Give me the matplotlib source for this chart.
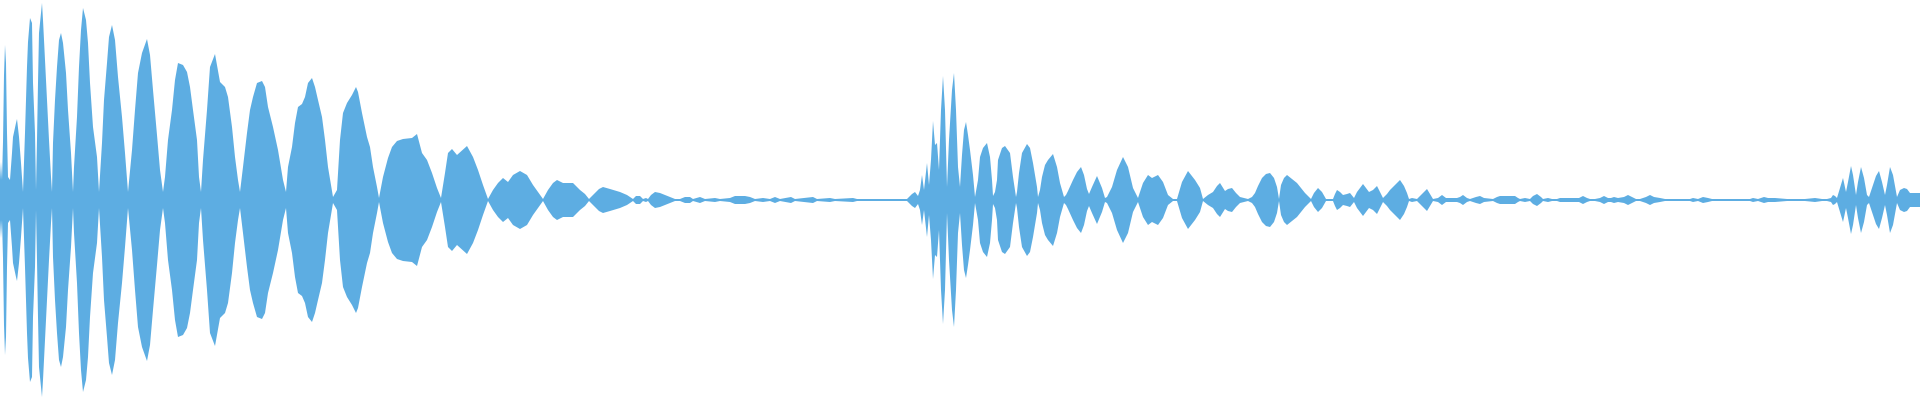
import matplotlib
matplotlib.use('Agg')
import matplotlib.pyplot as plt

# waveform envelope: sample position (px) and half-height (px, max 200)
# first hit and its decay
burst1_x = [0, 1, 2, 3, 4, 5, 6, 7, 8, 10,
            12, 13, 16, 17, 19, 21, 23, 25, 27, 28,
            30, 32, 33, 35, 36, 37, 38, 39, 42, 43,
            45, 47, 49, 51, 52, 53, 55, 57, 59, 61,
            63, 66, 68, 71, 73, 74, 77, 79, 81, 83,
            86, 88, 90, 93, 97, 99, 102, 104, 107, 109,
            112, 115, 118, 122, 125, 128, 132, 135, 138, 142,
            147, 150, 153, 157, 160, 163, 165, 168, 172, 175,
            178, 183, 187, 190, 193, 197, 199, 201, 203, 207,
            210, 215, 220, 225, 228, 232, 235, 238, 240, 243,
            247, 250, 253, 257, 262, 265, 268, 273, 278, 283,
            286, 288, 292, 295, 298, 302, 305, 308, 312, 315,
            318, 322, 325, 328, 333, 337, 340, 343, 347, 352,
            356, 358, 362, 367, 370, 373, 377, 379, 383, 388,
            392, 397, 403, 412, 417, 422, 427, 432, 437, 441,
            445, 448, 452, 457, 467, 473, 478, 483, 488, 493,
            498, 503, 508, 513, 520, 527, 533, 538, 543]
burst1_amp = [20, 38, 20, 58, 125, 155, 137, 67, 23, 20,
              47, 63, 77, 81, 63, 37, 8, 67, 133, 158,
              182, 177, 117, 67, 10, 60, 117, 167, 197, 180,
              140, 100, 60, 23, 8, 57, 100, 133, 160, 167,
              157, 127, 90, 47, 8, 33, 83, 133, 170, 192,
              180, 157, 117, 73, 43, 8, 57, 100, 137, 163,
              175, 160, 123, 83, 47, 8, 50, 90, 127, 147,
              161, 145, 110, 65, 30, 8, 23, 60, 90, 120,
              137, 135, 128, 113, 90, 60, 23, 8, 40, 90,
              133, 146, 118, 113, 103, 73, 43, 20, 8, 33,
              67, 90, 103, 117, 119, 113, 93, 73, 50, 20,
              8, 33, 53, 77, 93, 96, 103, 117, 122, 113,
              100, 83, 60, 33, 3, 10, 60, 87, 97, 105,
              113, 108, 87, 63, 53, 33, 13, 2, 23, 42,
              53, 59, 61, 62, 66, 47, 40, 27, 12, 2,
              27, 47, 51, 45, 54, 43, 30, 15, 1, 10,
              17, 22, 18, 25, 29, 25, 15, 8, 1]

# quiet stretch
quiet1_x = [548, 553, 557, 563, 573, 580, 585, 589, 594, 599,
            603, 610, 620, 627, 633, 636, 640, 643, 646, 648,
            651, 655, 660, 665, 670, 675, 680, 685, 690, 693,
            700, 705, 715, 720, 730, 735, 745, 750, 755, 763,
            770, 775, 780, 791, 795, 813, 817, 830, 835, 853,
            857, 873, 907]
quiet1_amp = [10, 17, 20, 17, 17, 10, 6, 1, 6, 11,
              13, 11, 8, 5, 1, 4, 4, 1, 2, 1,
              5, 8, 7, 5, 3, 1, 1, 3, 3, 1,
              3, 1, 2, 1, 2, 4, 4, 3, 1, 2,
              1, 3, 1, 3, 1, 3, 1, 2, 1, 2,
              1, 1, 1]

# second hit
burst2_x = [912, 915, 918, 920, 922, 924, 927, 929, 931, 933,
            935, 937, 939, 941, 943, 945, 947, 949, 952, 954,
            956, 958, 960, 962, 964, 966, 968, 970, 973, 975,
            978, 980, 983, 987, 990, 992, 993, 995, 997, 998,
            1002, 1005, 1010, 1013, 1016, 1017, 1019, 1022, 1027, 1030,
            1033, 1037, 1038, 1040, 1042, 1045, 1048, 1053, 1057, 1060,
            1064, 1066, 1068, 1073, 1077, 1081, 1084, 1087, 1089, 1092,
            1097, 1102, 1105, 1107, 1112, 1117, 1123, 1128, 1133, 1138,
            1143, 1148, 1152, 1158, 1163, 1168, 1173, 1177, 1182, 1188,
            1195, 1200, 1203]
burst2_amp = [6, 8, 4, 10, 25, 10, 37, 15, 40, 79,
              55, 57, 30, 90, 124, 90, 13, 60, 110, 127,
              90, 33, 13, 45, 70, 78, 65, 50, 25, 3,
              20, 43, 52, 57, 43, 20, 4, 8, 20, 40,
              52, 54, 47, 23, 3, 8, 27, 47, 56, 52,
              37, 13, 3, 10, 23, 35, 40, 46, 33, 17,
              3, 5, 9, 20, 28, 33, 25, 11, 6, 13,
              24, 12, 2, 3, 13, 30, 43, 33, 12, 2,
              17, 25, 22, 25, 18, 5, 1, 1, 18, 29,
              20, 12, 1]

# tail of second hit and long quiet stretch
tail2_x = [1208, 1213, 1217, 1220, 1225, 1228, 1232, 1236, 1240, 1248,
           1252, 1255, 1258, 1262, 1266, 1270, 1274, 1277, 1279, 1281,
           1284, 1287, 1292, 1297, 1301, 1305, 1311, 1314, 1318, 1322,
           1326, 1333, 1335, 1337, 1340, 1343, 1347, 1350, 1354, 1357,
           1363, 1366, 1369, 1373, 1377, 1380, 1383, 1387, 1390, 1395,
           1400, 1404, 1407, 1409, 1412, 1417, 1422, 1427, 1430, 1433,
           1438, 1442, 1446, 1450, 1457, 1460, 1463, 1467, 1470, 1476,
           1480, 1484, 1493, 1497, 1500, 1515, 1518, 1520, 1525, 1530,
           1533, 1537, 1541, 1543, 1548, 1552, 1557, 1560, 1575, 1579,
           1583, 1587, 1590, 1595, 1600, 1604, 1608, 1611, 1614, 1618,
           1624, 1628, 1632, 1636, 1640, 1646, 1650, 1654, 1660, 1665,
           1670, 1680, 1690, 1693, 1698, 1703, 1708, 1712, 1722, 1740,
           1750, 1753, 1758, 1764, 1768, 1775, 1787, 1805, 1815, 1822,
           1827]
tail2_amp = [5, 8, 14, 17, 9, 11, 12, 7, 3, 1,
             3, 7, 14, 22, 26, 27, 22, 13, 1, 15,
             22, 25, 21, 17, 12, 7, 1, 7, 12, 8,
             1, 1, 6, 10, 8, 5, 6, 7, 2, 8,
             16, 12, 8, 10, 14, 8, 2, 6, 10, 15,
             20, 14, 7, 1, 2, 1, 6, 11, 6, 1,
             2, 5, 2, 2, 2, 3, 5, 2, 1, 3,
             4, 2, 1, 3, 4, 4, 2, 1, 2, 1,
             4, 6, 3, 1, 2, 1, 1, 2, 2, 2,
             4, 2, 1, 1, 2, 4, 2, 2, 3, 2,
             3, 5, 3, 1, 1, 3, 5, 3, 2, 1,
             1, 1, 1, 2, 1, 3, 2, 1, 1, 1,
             1, 2, 1, 3, 2, 2, 1, 1, 2, 1,
             1]

# third (small) hit at the end
burst3_x = [1831, 1833, 1835, 1837, 1840, 1843, 1846, 1848, 1851, 1853,
            1856, 1858, 1861, 1864, 1867, 1869, 1872, 1876, 1879, 1882,
            1885, 1887, 1890, 1893, 1897, 1900, 1904, 1907, 1910, 1920]
burst3_amp = [2, 5, 4, 2, 12, 22, 8, 18, 34, 25,
              5, 18, 33, 22, 5, 3, 12, 24, 29, 18,
              5, 15, 33, 25, 3, 10, 12, 11, 7, 7]

wave_color = '#5DADE2'

env_x = burst1_x + quiet1_x + burst2_x + tail2_x + burst3_x
env_amp = burst1_amp + quiet1_amp + burst2_amp + tail2_amp + burst3_amp
neg = [-a for a in env_amp]

fig = plt.figure(figsize=(19.2, 4), dpi=100)
ax = fig.add_axes([0, 0, 1, 1])
ax.fill_between(env_x, neg, env_amp, color=wave_color, linewidth=0)
ax.set_xlim(0, 1920)
ax.set_ylim(-200, 200)
ax.axis('off')

fig.savefig('out.png', dpi=100)
